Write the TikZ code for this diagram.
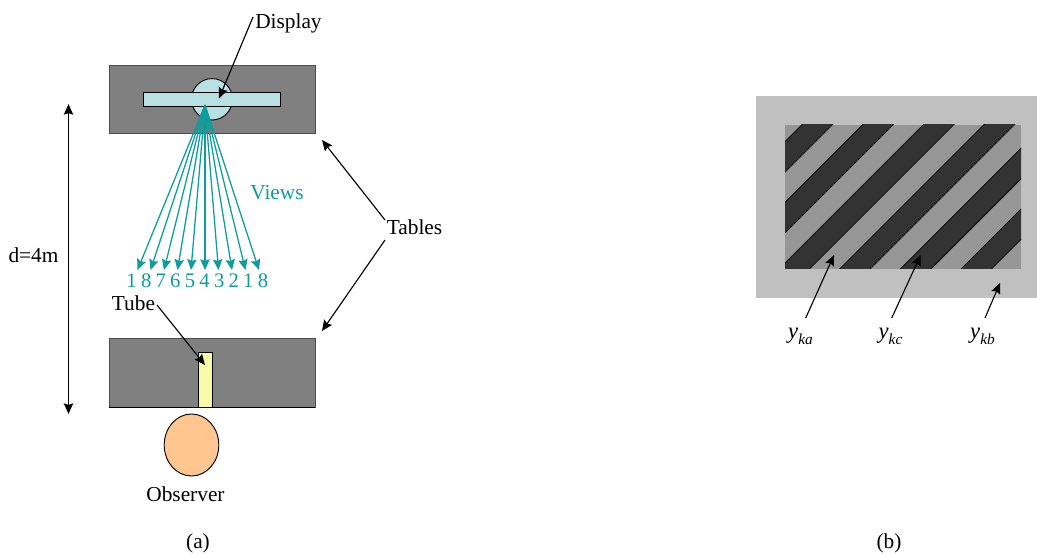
\documentclass[tikz,border=0pt]{standalone}
\usepackage{fontspec}
\setmainfont{Liberation Serif}
\usetikzlibrary{arrows.meta}
\definecolor{tablegray}{HTML}{808080}
\definecolor{dispblue}{HTML}{B9E0E3}
\definecolor{viewteal}{HTML}{0E9C9C}
\definecolor{tubeyellow}{HTML}{F8FBA5}
\definecolor{skin}{HTML}{FFC68F}
\definecolor{outergray}{HTML}{C0C0C0}
\definecolor{midgray}{HTML}{969696}
\definecolor{darkstripe}{HTML}{333333}
\tikzset{
  lbl/.style={inner sep=0pt,font=\fontsize{16}{18}\selectfont},
  tablebox/.style={draw=black!70,line width=0.45pt,fill=tablegray},
  part/.style={draw=black,line width=0.7pt},
  pointer/.style={draw=black,line width=0.85pt,-{Stealth[length=8pt,width=7pt,inset=1.2pt]}},
  viewarrow/.style={draw=viewteal,line width=0.95pt,-{Stealth[length=8pt,width=7pt,inset=1.2pt]}}
}
\newcommand{\yk}[1]{{\fontsize{17}{18}\selectfont\textit{y}}\raisebox{-0.28em}{\fontsize{11.5}{12}\selectfont\textit{#1}}}
\begin{document}
\begin{tikzpicture}[x=0.75pt,y=-0.75pt]
\useasboundingbox (0,0) rectangle (1037,555);
% --- (a)
\path[tablebox] (109.3,65) rectangle (315,133.5);
\path[part,fill=dispblue] (212,99.3) circle [x radius=20.5,y radius=20.7];
\node[part,fill=dispblue,minimum width=103pt,minimum height=10.5pt,inner sep=0pt,anchor=center] (disp) at (212,99.3) {};
\coordinate (apex) at (205,105);
\foreach \i/\tx in {1/137.5,2/150.5,3/164,4/177.5,5/191,6/205,7/218.5,8/232,9/245.5,10/259}{
  \coordinate (tip\i) at (\tx,270);
  \draw[viewarrow] (apex) -- (tip\i);
}
\node[lbl,text=viewteal,font=\fontsize{15.5}{16}\selectfont] (nums) at (197.3,281) {\spaceskip=3.2pt 1 8 7 6 5 4 3 2 1 8};
\node[lbl,text=viewteal] (views) at (277,193) {Views};
\node[lbl,anchor=west] (display) at (255,23) {Display};
\coordinate (dispS) at (253,17);
\coordinate (dispE) at (219,98.5);
\draw[pointer] (dispS) -- (dispE);

\path[tablebox] (109.3,338.7) rectangle (315,407.3);
\draw[black,line width=0.7pt] (109.3,407.3) -- (315,407.3);
\path[part,fill=tubeyellow] (198.3,352.3) rectangle (212.3,407.3);
\node[lbl] (tube) at (133.5,303) {Tube};
\coordinate (tubeS) at (157,305);
\coordinate (tubeE) at (205,365);
\draw[pointer] (tubeS) -- (tubeE);
\path[part,fill=skin] (191.5,445) circle [x radius=27.3,y radius=31];
\node[lbl] (observer) at (185.5,494) {Observer};

\coordinate (dT) at (68.5,104);
\coordinate (dB) at (68.5,414);
\draw[draw=black,line width=0.85pt,{Stealth[length=8pt,width=7pt,inset=1.2pt]}-{Stealth[length=8pt,width=7pt,inset=1.2pt]}] (dT) -- (dB);
\node[lbl] (d) at (33.5,255) {d=4m};

\node[lbl] (tables) at (414.5,227) {Tables};
\coordinate (t1) at (322,140);
\coordinate (t2) at (322,331);
\coordinate (t1s) at (385,220);
\coordinate (t2s) at (385,240);
\draw[pointer] (t1s) -- (t1);
\draw[pointer] (t2s) -- (t2);

\node[lbl] (capa) at (198,543) {(a)};
\node[lbl] (capb) at (889,543) {(b)};

% --- (b)
\fill[outergray] (756,96) rectangle (1037,297.7);
\fill[midgray] (785,125) rectangle (1021,268.7);
\begin{scope}
\clip (785,125) rectangle (1021,268.7);
\foreach \s in {926.67,987.33,1048,1108.67,1169.33,1230}{
  \pgfmathsetmacro{\e}{\s+30.5}
  \fill[darkstripe] (\s-700,700) -- (\e-700,700) -- (\e,0) -- (\s,0) -- cycle;
  \draw[black,line width=0.5pt] (\s-700,700) -- (\s,0);
  \draw[black,line width=0.5pt] (\e-700,700) -- (\e,0);
}
\end{scope}
\node[lbl] (ya) at (800.5,336) {\yk{ka}};
\node[lbl] (yc) at (890.5,336) {\yk{kc}};
\node[lbl] (yb) at (982.5,336) {\yk{kb}};
\coordinate (yaS) at (805.7,318);
\coordinate (yaE) at (834,255);
\coordinate (ycS) at (891.7,318);
\coordinate (ycE) at (920.7,255);
\coordinate (ybS) at (985,318);
\coordinate (ybE) at (1000,283);
\draw[pointer] (yaS) -- (yaE);
\draw[pointer] (ycS) -- (ycE);
\draw[pointer] (ybS) -- (ybE);
\end{tikzpicture}
\end{document}
